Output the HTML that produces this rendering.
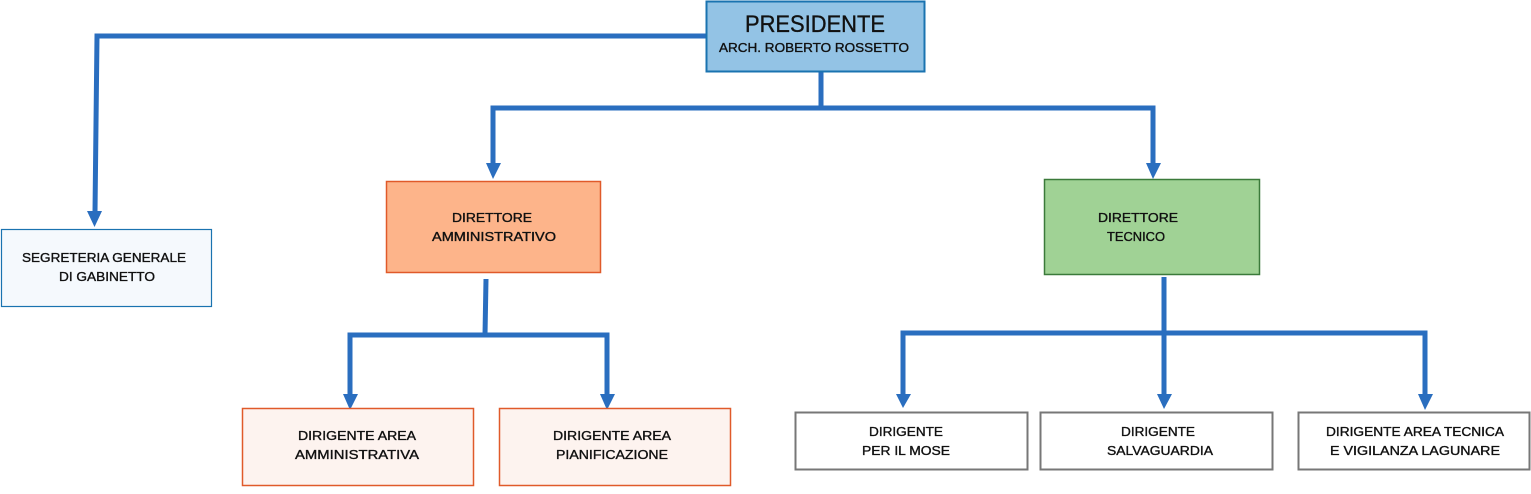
<!DOCTYPE html>
<html><head><meta charset="utf-8"><style>
html,body{margin:0;padding:0;background:#fff;}
svg{display:block;}
text{font-family:"Liberation Sans",sans-serif;fill:#111;text-anchor:middle;stroke:#111;stroke-width:0.35;}
.s{font-size:12.5px;}
</style></head><body>
<svg width="1531" height="494" viewBox="0 0 1531 494">
<g stroke="#2a6ebf" stroke-width="5" fill="none" stroke-linejoin="miter">
<polyline points="706,36 97,36 95,212"/>
<polyline points="821,72 821,108"/>
<polyline points="493,165 493,108 1153,108 1153,165"/>
<polyline points="486,279 485,335"/>
<polyline points="350,396 350,335 607,335 607,396"/>
<polyline points="1164,277 1164,396"/>
<polyline points="903,396 903,333 1425,333 1425,396"/>
</g>
<g fill="#2a6ebf">
<polygon points="87,211 102,211 94.5,227"/>
<polygon points="486,163 501,163 493,179"/>
<polygon points="1146,163 1161,163 1153,179"/>
<polygon points="343,394 358,394 350,410"/>
<polygon points="600,394 615,394 607,410"/>
<polygon points="896,394 911,394 903,408"/>
<polygon points="1157,394 1172,394 1164,409"/>
<polygon points="1418,394 1433,394 1425,410"/>
</g>
<rect x="706.5" y="1.5" width="218" height="70" fill="#93c3e5" stroke="#1a73b0" stroke-width="2"/>
<text x="815" y="32" style="font-size:24px" textLength="140" lengthAdjust="spacingAndGlyphs">PRESIDENTE</text>
<text x="814" y="52" class="s" textLength="190" lengthAdjust="spacingAndGlyphs">ARCH. ROBERTO ROSSETTO</text>
<rect x="1.5" y="229.5" width="210" height="77" fill="#f5f9fd" stroke="#1a73b0" stroke-width="1.2"/>
<text x="104" y="262" class="s" textLength="164" lengthAdjust="spacingAndGlyphs">SEGRETERIA GENERALE</text>
<text x="107" y="281" class="s" textLength="96" lengthAdjust="spacingAndGlyphs">DI GABINETTO</text>
<rect x="386.5" y="181.5" width="214" height="91" fill="#fdb48a" stroke="#e05a2a" stroke-width="1.5"/>
<text x="492" y="222" class="s" textLength="80" lengthAdjust="spacingAndGlyphs">DIRETTORE</text>
<text x="494" y="241" class="s" textLength="124" lengthAdjust="spacingAndGlyphs">AMMINISTRATIVO</text>
<rect x="1044.5" y="179.5" width="215" height="95" fill="#a0d295" stroke="#3b7a3a" stroke-width="1.5"/>
<text x="1138" y="222" class="s" textLength="80" lengthAdjust="spacingAndGlyphs">DIRETTORE</text>
<text x="1136" y="241" class="s" textLength="58" lengthAdjust="spacingAndGlyphs">TECNICO</text>
<g stroke="#e05a2a" stroke-width="1.5" fill="#fdf3ef">
<rect x="242.5" y="408.5" width="231" height="77"/>
<rect x="499.5" y="408.5" width="231" height="77"/>
</g>
<text x="357" y="440" class="s" textLength="118" lengthAdjust="spacingAndGlyphs">DIRIGENTE AREA</text>
<text x="357" y="459" class="s" textLength="124" lengthAdjust="spacingAndGlyphs">AMMINISTRATIVA</text>
<text x="612" y="440" class="s" textLength="118" lengthAdjust="spacingAndGlyphs">DIRIGENTE AREA</text>
<text x="612" y="459" class="s" textLength="112" lengthAdjust="spacingAndGlyphs">PIANIFICAZIONE</text>
<g stroke="#777" stroke-width="2" fill="#fff">
<rect x="795.5" y="412.5" width="232" height="57"/>
<rect x="1040.5" y="412.5" width="232" height="57"/>
<rect x="1298.5" y="412.5" width="231" height="57"/>
</g>
<text x="906" y="436" class="s" textLength="74" lengthAdjust="spacingAndGlyphs">DIRIGENTE</text>
<text x="906" y="455" class="s" textLength="88" lengthAdjust="spacingAndGlyphs">PER IL MOSE</text>
<text x="1158" y="436" class="s" textLength="74" lengthAdjust="spacingAndGlyphs">DIRIGENTE</text>
<text x="1160" y="455" class="s" textLength="106" lengthAdjust="spacingAndGlyphs">SALVAGUARDIA</text>
<text x="1415" y="436" class="s" textLength="178" lengthAdjust="spacingAndGlyphs">DIRIGENTE AREA TECNICA</text>
<text x="1415" y="455" class="s" textLength="170" lengthAdjust="spacingAndGlyphs">E  VIGILANZA LAGUNARE</text>
</svg>
</body></html>
